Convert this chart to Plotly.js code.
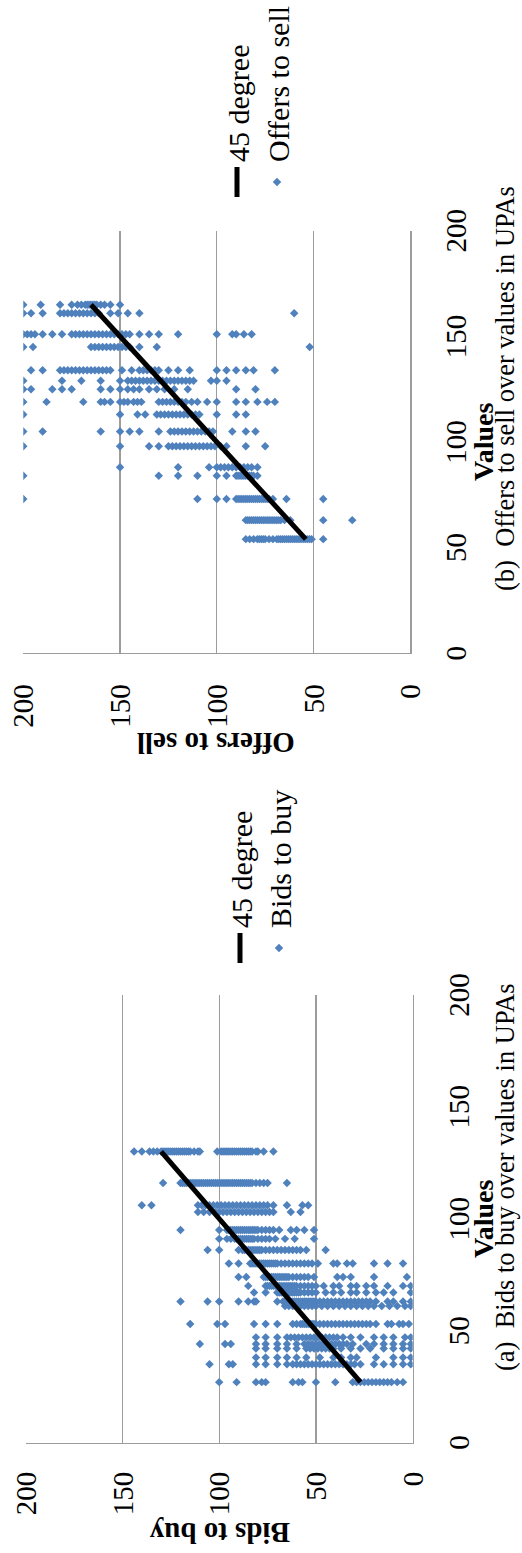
<!DOCTYPE html>
<html>
<head>
<meta charset="utf-8">
<script src="https://cdn.plot.ly/plotly-3.0.1.min.js"></script>
<style>
  html, body { margin: 0; padding: 0; background: #fff; overflow: hidden; width: 522px; height: 1553px; }
  /* the two panels are laid out landscape and turned a quarter turn for the page */
  #chart { position: absolute; left: 0; top: 0; width: 1553px; height: 522px;
           transform-origin: 0 0; transform: translate(0, 1553px) rotate(-90deg); }
</style>
</head>
<body>
<div id="chart"></div>
<script>
// ---- Panel (a): bids to buy, grouped by the value of the UPA ----
const bidValueLevels = [130, 116, 106, 103, 95, 91, 86, 80, 74, 70, 67, 63, 61, 53, 47, 44, 42, 38, 35, 27];
const bidRows = [
  [144, 140, 136, 134, 132, 130, 129, 128, 127, 126, 125, 124, 123, 122, 121, 120, 119, 118, 117, 116, 115, 113, 111, 110, 101, 99, 98, 97, 96, 95, 94, 93, 92, 91, 90, 89, 88, 87, 86, 85, 84, 83, 81, 80, 77, 72],
  [129, 120, 119, 118, 117, 116, 115, 114, 113, 112, 111, 110, 109, 108, 107, 106, 105, 104, 103, 102, 101, 100, 99, 98, 97, 96, 95, 94, 93, 92, 91, 90, 89, 88, 87, 86, 85, 84, 83, 81, 79, 77, 75, 65],
  [140, 135, 111, 109, 107, 105, 103, 101, 99, 97, 95, 93, 91, 89, 87, 85, 83, 81, 79, 77, 75, 72, 65, 57, 54],
  [111, 108, 105, 102, 100, 98, 96, 94, 92, 90, 88, 86, 84, 82, 80, 78, 76, 74, 72, 63, 58],
  [120, 100, 96, 95, 94, 93, 92, 91, 90, 89, 88, 87, 86, 85, 84, 83, 82, 81, 80, 78, 76, 74, 72, 69, 63, 60, 56, 51],
  [100, 96, 94, 92, 91, 90, 89, 88, 87, 86, 85, 84, 83, 82, 80, 78, 76, 74, 71, 66, 61, 51],
  [106, 100, 90, 88, 87, 86, 85, 84, 83, 82, 81, 80, 79, 78, 76, 74, 72, 70, 68, 66, 64, 62, 60, 58, 55, 45],
  [95, 90, 84, 83, 82, 81, 80, 79, 78, 77, 76, 75, 74, 73, 72, 71, 70, 68, 66, 64, 62, 60, 58, 56, 54, 52, 49, 41, 39, 34, 31, 20, 13, 5],
  [90, 86, 77, 76, 75, 74, 73, 72, 71, 70, 69, 68, 67, 66, 65, 64, 62, 60, 58, 56, 54, 51, 39, 36, 32, 20, 3],
  [85, 76, 75, 74, 73, 72, 71, 70, 69, 68, 67, 66, 65, 64, 63, 62, 61, 60, 58, 56, 54, 52, 50, 46, 41, 38, 32, 29, 24, 20, 13, 5, 1],
  [82, 76, 70, 69, 68, 67, 66, 65, 64, 63, 62, 61, 60, 59, 58, 56, 54, 52, 50, 45, 41, 37, 32, 29, 24, 19, 15, 10, 1],
  [120, 106, 100, 90, 85, 82, 81, 70, 67, 66, 65, 64, 63, 62, 61, 60, 59, 58, 57, 56, 55, 54, 53, 52, 51, 50, 48, 46, 44, 42, 40, 38, 36, 34, 32, 30, 28, 26, 24, 22, 19, 13, 10, 5, 1],
  [66, 64, 62, 60, 58, 56, 54, 52, 50, 47, 44, 41, 38, 35, 32, 29, 26, 23, 20, 16, 12, 8, 4, 1],
  [115, 101, 97, 82, 76, 70, 62, 60, 58, 57, 56, 55, 54, 53, 52, 51, 50, 48, 46, 44, 42, 40, 38, 36, 34, 32, 30, 28, 26, 24, 22, 19, 13, 11, 7, 5, 2],
  [81, 76, 70, 65, 63, 61, 59, 57, 55, 53, 51, 49, 47, 45, 43, 41, 39, 36, 32, 27, 20, 15, 10, 4, 1],
  [110, 97, 94, 81, 76, 70, 65, 60, 56, 54, 52, 50, 48, 46, 44, 42, 40, 38, 36, 34, 31, 24, 20, 15, 10, 5, 1],
  [81, 76, 70, 65, 60, 55, 53, 51, 49, 47, 45, 43, 41, 37, 32, 27, 22, 15, 10, 5, 1],
  [81, 76, 70, 65, 60, 55, 48, 41, 37, 32, 29, 19, 10, 5, 1],
  [105, 95, 93, 81, 76, 70, 65, 62, 60, 58, 56, 54, 52, 50, 48, 46, 44, 42, 40, 38, 36, 34, 32, 30, 27, 20, 15, 10, 5, 1],
  [100, 91, 81, 78, 76, 62, 59, 57, 50, 40, 31, 29, 27, 25, 23, 21, 19, 17, 15, 13, 11, 8, 5]
];
const bidLineEnds = [27, 130];

// ---- Panel (b): offers to sell, grouped by the value of the UPA ----
const offerValueLevels = [165, 161, 151, 145, 134, 129, 125, 119, 113, 105, 98, 88, 84, 73, 63, 54];
const offerRows = [
  [200, 191, 181, 175, 172, 170, 168, 167, 166, 165, 164, 163, 162, 160, 158, 155, 150],
  [200, 196, 190, 181, 179, 177, 175, 173, 171, 169, 167, 165, 163, 161, 155, 151, 146, 140, 60],
  [200, 198, 196, 194, 190, 185, 180, 175, 173, 171, 169, 167, 165, 163, 161, 159, 157, 155, 153, 151, 149, 147, 145, 140, 135, 130, 120, 100, 92, 90, 86, 82],
  [200, 195, 165, 163, 161, 159, 157, 155, 153, 151, 149, 147, 145, 140, 131, 52],
  [196, 190, 181, 179, 177, 175, 173, 171, 169, 167, 165, 163, 161, 159, 157, 155, 149, 144, 140, 138, 136, 134, 132, 130, 125, 120, 114, 100, 95, 90, 85, 81, 70],
  [200, 180, 170, 160, 150, 146, 144, 142, 140, 138, 136, 134, 132, 130, 128, 126, 124, 122, 120, 118, 116, 114, 112, 103, 100, 95],
  [200, 196, 185, 180, 175, 160, 155, 150, 146, 143, 140, 135, 131, 127, 122, 115, 90, 80],
  [200, 188, 169, 160, 158, 155, 150, 148, 146, 143, 141, 139, 130, 128, 126, 124, 122, 120, 118, 116, 113, 110, 105, 100, 90, 85, 79, 74, 70],
  [200, 150, 141, 137, 131, 129, 127, 125, 123, 121, 119, 117, 115, 113, 111, 109, 100, 90, 85],
  [200, 190, 160, 150, 145, 140, 130, 124, 122, 120, 118, 116, 114, 112, 110, 108, 106, 104, 102, 92, 85, 80],
  [200, 150, 135, 130, 125, 123, 121, 119, 117, 115, 113, 111, 109, 107, 105, 103, 101, 98, 95, 85, 75],
  [150, 120, 104, 100, 98, 96, 94, 92, 90, 88, 86, 84, 82, 79],
  [200, 130, 120, 110, 100, 95, 90, 89, 88, 87, 86, 85, 84, 83, 82, 81, 79],
  [200, 110, 100, 95, 90, 89, 88, 87, 86, 85, 84, 83, 82, 81, 80, 79, 78, 77, 76, 75, 74, 73, 71, 64, 45],
  [85, 84, 83, 82, 81, 80, 79, 78, 77, 76, 75, 74, 73, 72, 71, 70, 69, 68, 67, 65, 62, 45, 30],
  [85, 83, 81, 79, 78, 77, 76, 75, 73, 71, 69, 68, 67, 66, 65, 64, 63, 62, 61, 60, 59, 58, 57, 56, 55, 54, 53, 52, 51, 45]
];
const offerLineEnds = [54, 165];

const axisTicks = [0, 50, 100, 150, 200];
const tickText = ['0', '50', '100', '150', '200'];

// flatten grouped rows into point lists
function flatten(levels, rows) {
  const xs = [], ys = [];
  levels.forEach((v, i) => rows[i].forEach(b => { xs.push(v); ys.push(b); }));
  return { xs, ys };
}
const bids = flatten(bidValueLevels, bidRows);
const offers = flatten(offerValueLevels, offerRows);

const serif = 'Liberation Serif, Times New Roman, serif';
const blue = '#4F81BD';
const gridGrey = '#9c9c9c';
const W = 1553, H = 522;

const traces = [
  { type: 'scatter', mode: 'markers', name: 'Bids to buy', x: bids.xs, y: bids.ys,
    xaxis: 'x', yaxis: 'y', legend: 'legend2',
    marker: { symbol: 'diamond', size: 6.5, color: blue } },
  { type: 'scatter', mode: 'lines', name: '45 degree', x: bidLineEnds, y: bidLineEnds,
    xaxis: 'x', yaxis: 'y', legend: 'legend',
    line: { color: '#000', width: 5 } },
  { type: 'scatter', mode: 'markers', name: 'Offers to sell', x: offers.xs, y: offers.ys,
    xaxis: 'x2', yaxis: 'y2', legend: 'legend4',
    marker: { symbol: 'diamond', size: 6.5, color: blue } },
  { type: 'scatter', mode: 'lines', name: '45 degree', x: offerLineEnds, y: offerLineEnds,
    xaxis: 'x2', yaxis: 'y2', legend: 'legend3',
    line: { color: '#000', width: 5 } }
];

function valueAxis(domain, anchor) {
  return { domain, anchor, range: [0, 200], tickmode: 'array', tickvals: axisTicks, ticktext: tickText,
    showgrid: false, zeroline: false, showline: true, linecolor: gridGrey, linewidth: 1.3,
    ticks: '', ticklabelstandoff: 20, tickfont: { family: serif, size: 29, color: '#000' }, fixedrange: true };
}
function priceAxis(domain, anchor, standoff) {
  return { domain, anchor, range: [0, 200], tickmode: 'array', tickvals: axisTicks, ticktext: tickText,
    showgrid: true, gridcolor: gridGrey, gridwidth: 1.3, zeroline: false, showline: true,
    linecolor: gridGrey, linewidth: 1.3, ticks: '', ticklabelstandoff: standoff,
    tickfont: { family: serif, size: 29, color: '#000' }, fixedrange: true };
}
// one legend entry per box so each row sits at its own spot
function legendBox(u, v) {
  return { x: u / W, y: (H - v) / H, xanchor: 'left', yanchor: 'middle', bgcolor: 'rgba(0,0,0,0)',
    borderwidth: 0, font: { family: serif, size: 30, color: '#000' }, itemclick: false };
}
function note(text, u, v, size, angle, yanchor) {
  return { text, x: u / W, y: (H - v) / H, xref: 'paper', yref: 'paper', xanchor: 'center',
    yanchor: yanchor || 'middle', showarrow: false, textangle: angle || 0,
    font: { family: serif, size, color: '#000' } };
}

const layout = {
  width: W, height: H,
  margin: { l: 0, r: 0, t: 0, b: 0 },
  paper_bgcolor: '#fff', plot_bgcolor: 'rgba(0,0,0,0)',
  font: { family: serif, color: '#000' },
  xaxis: valueAxis([111 / W, 561 / W], 'y'),
  yaxis: priceAxis([(H - 412.7) / H, (H - 25.7) / H], 'x', 22),
  xaxis2: valueAxis([904.5 / W, 1329 / W], 'y2'),
  yaxis2: priceAxis([(H - 410.3) / H, (H - 23.3) / H], 'x2', 24),
  legend: legendBox(588, 240),
  legend2: legendBox(588, 279),
  legend3: legendBox(1358, 237),
  legend4: legendBox(1358, 277),
  annotations: [
    note('<b>Values</b>', 336, 483, 28),
    note('<b>Values</b>', 1116.75, 483, 28),
    note('<b>Bids to buy</b>', 20, 219, 29, -90),
    note('<b>Offers to sell</b>', 814, 216, 29, -90),
    note('(a)\u00a0 Bids to buy over values in UPAs', 378, 521.5, 26.5, 0, 'bottom'),
    note('(b)\u00a0 Offers to sell over values in UPAs', 1171, 521.5, 26.5, 0, 'bottom')
  ],
  showlegend: true
};

Plotly.newPlot('chart', traces, layout, { staticPlot: true, displayModeBar: false });
</script>
</body>
</html>
